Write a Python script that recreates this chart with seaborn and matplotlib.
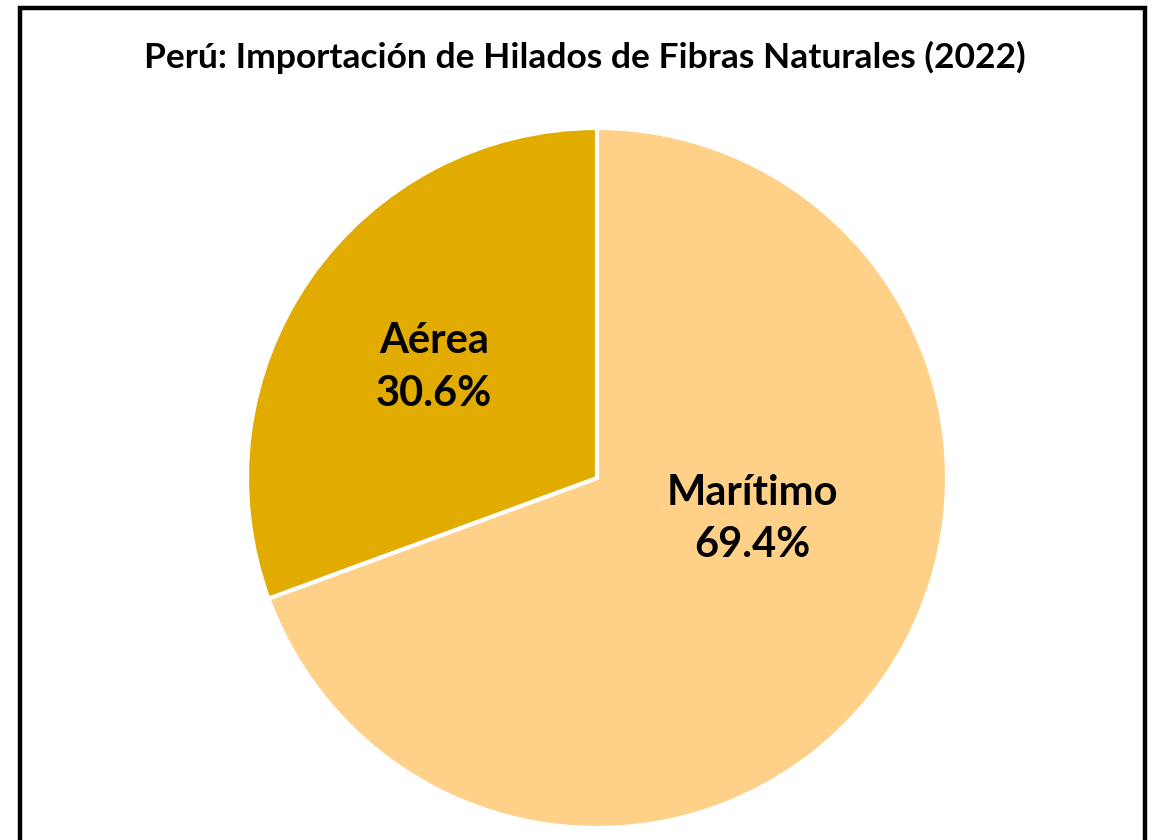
import matplotlib
matplotlib.use("Agg")
import matplotlib.pyplot as plt
import seaborn as sns
from matplotlib.patches import Rectangle

title = "Perú: Importación de Hilados de Fibras Naturales (2022)"
categories = ["Marítimo", "Aérea"]
shares = [69.4, 30.6]
colors = ["#FFD088", "#E2AB00"]

sns.set_theme(style="white")
plt.rcParams['font.family'] = ['Lato', 'DejaVu Sans']

W, H = 1154, 840
fig = plt.figure(figsize=(W / 100, H / 100), dpi=100)
fig.patch.set_facecolor("white")

# frame
fig.patches.append(Rectangle((20 / W, -0.1), (1145 - 20) / W, (H - 8) / H + 0.1,
                             transform=fig.transFigure, fill=False,
                             edgecolor="black", linewidth=3.2, zorder=5))

cx, cy, r = 597, 478, 350
ax = fig.add_axes([(cx - r) / W, (H - cy - r) / H, 2 * r / W, 2 * r / H])
wedges, texts = ax.pie(shares, colors=colors, startangle=90, counterclock=False,
                       wedgeprops=dict(edgecolor="white", linewidth=3))
ax.set_xlim(-1, 1)
ax.set_ylim(-1, 1)
ax.set_aspect("equal")
ax.axis("off")

# label baselines (px from top)
label_pos = {"Marítimo": (752, 505, 557), "Aérea": (434, 353, 406)}
for cat, val in zip(categories, shares):
    px, b1, b2 = label_pos[cat]
    ax.text((px - cx) / r, (cy - b1) / r, cat, ha="center", va="baseline",
            fontsize=30, fontweight="bold", color="black")
    ax.text((px - cx) / r, (cy - b2) / r, f"{val:.1f}%", ha="center", va="baseline",
            fontsize=30, fontweight="bold", color="black")

fig.text(585 / W, 1 - 68 / H, title, ha="center", va="baseline",
         fontsize=25.5, fontweight="bold", color="black")

fig.savefig("out.png", dpi=100)
